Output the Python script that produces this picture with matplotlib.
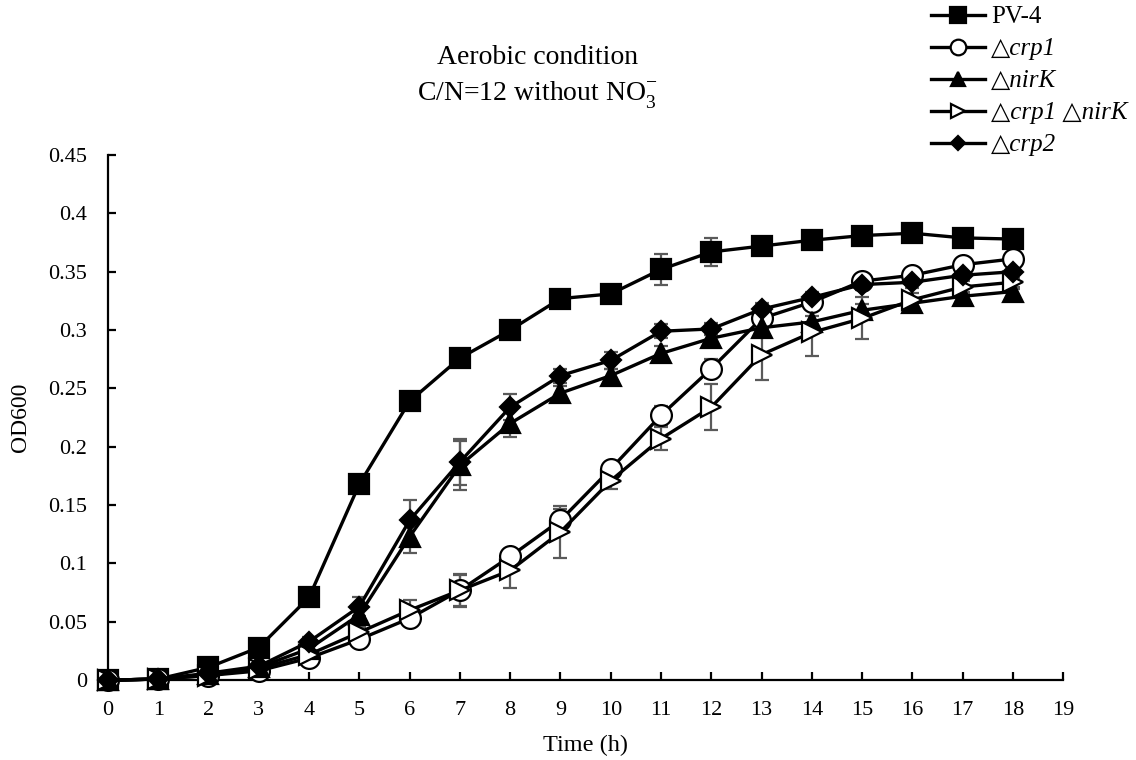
import numpy as np
import matplotlib
matplotlib.use('Agg')
import matplotlib.pyplot as plt
from matplotlib.ticker import FuncFormatter, MultipleLocator

plt.rcParams['font.family'] = ['Liberation Serif', 'DejaVu Serif']
plt.rcParams['mathtext.fontset'] = 'custom'
plt.rcParams['mathtext.rm'] = 'Liberation Serif'

time_h = list(range(19))

pv4 = [0, 0.001, 0.011, 0.028, 0.071, 0.168, 0.239, 0.276, 0.300, 0.327,
       0.331, 0.352, 0.367, 0.372, 0.377, 0.381, 0.383, 0.379, 0.378]
crp1 = [0, 0.001, 0.004, 0.008, 0.019, 0.035, 0.053, 0.077, 0.106, 0.137,
        0.181, 0.227, 0.267, 0.310, 0.324, 0.342, 0.347, 0.356, 0.361]
nirk = [0, 0.001, 0.005, 0.011, 0.027, 0.056, 0.123, 0.184, 0.220, 0.246,
        0.261, 0.280, 0.293, 0.302, 0.307, 0.317, 0.323, 0.329, 0.333]
crp1_nirk = [0, 0.001, 0.004, 0.010, 0.022, 0.041, 0.060, 0.077, 0.094, 0.127,
             0.171, 0.207, 0.234, 0.279, 0.298, 0.310, 0.326, 0.337, 0.341]
crp2 = [0, 0.001, 0.006, 0.012, 0.033, 0.063, 0.137, 0.187, 0.234, 0.261,
        0.274, 0.299, 0.301, 0.318, 0.328, 0.339, 0.341, 0.347, 0.350]

pv4_err = [0, 0, 0.002, 0.003, 0.004, 0.005, 0.005, 0.005, 0.004, 0.005,
           0.008, 0.013, 0.012, 0.004, 0.004, 0.004, 0.004, 0.004, 0.004]
crp1_err = [0, 0, 0.001, 0.002, 0.003, 0.004, 0.005, 0.013, 0.006, 0.010,
            0.006, 0.008, 0.008, 0.006, 0.006, 0.005, 0.005, 0.005, 0.005]
nirk_err = [0, 0, 0.001, 0.002, 0.003, 0.005, 0.014, 0.021, 0.012, 0.006,
            0.006, 0.006, 0.005, 0.005, 0.005, 0.005, 0.004, 0.004, 0.004]
crp1_nirk_err = [0, 0, 0.001, 0.002, 0.003, 0.005, 0.009, 0.014, 0.015, 0.022,
                 0.007, 0.010, 0.020, 0.022, 0.020, 0.018, 0.006, 0.006, 0.006]
crp2_err = [0, 0, 0.001, 0.002, 0.004, 0.008, 0.017, 0.020, 0.011, 0.006,
            0.007, 0.006, 0.005, 0.005, 0.005, 0.005, 0.005, 0.005, 0.005]

labels = ['PV-4', '△crp1', '△nirK', '△crp1 △nirK', '△crp2']
italic = [False, True, True, True, True]

series = [
    (pv4, pv4_err, dict(marker='s', ms=15, mfc='black')),
    (crp1, crp1_err, dict(marker='o', ms=15, mfc='white')),
    (nirk, nirk_err, dict(marker='^', ms=14, mfc='black')),
    (crp1_nirk, crp1_nirk_err, dict(marker='>', ms=14, mfc='white')),
    (crp2, crp2_err, dict(marker='D', ms=10, mfc='black')),
]

fig = plt.figure(figsize=(11.36, 7.6), dpi=100)
ax = fig.add_axes([0.095, 0.105, 0.841, 0.691])

# error bars go under the lines and markers
for y, err, style in series:
    ax.errorbar(time_h, y, yerr=err, fmt='none', ecolor='#5a5a5a',
                elinewidth=1.6, capsize=5, capthick=1.6, zorder=2,
                clip_on=False)

handles = []
for (y, err, style), lab in zip(series, labels):
    h, = ax.plot(time_h, y, color='black', lw=2.4, mec='black', mew=1.6,
                 zorder=3, clip_on=False, label=lab, **style)
    handles.append(h)

ax.set_xlim(0, 19)
ax.set_ylim(0, 0.45)
ax.xaxis.set_major_locator(MultipleLocator(1))
ax.yaxis.set_major_locator(MultipleLocator(0.05))
ax.yaxis.set_major_formatter(FuncFormatter(lambda v, p: '%g' % round(v, 2)))
for s in ['top', 'right']:
    ax.spines[s].set_visible(False)
for s in ['left', 'bottom']:
    ax.spines[s].set_linewidth(1.6)
ax.tick_params(direction='in', length=6, width=1.6, labelsize=16, pad=15)
ax.set_xlabel('Time (h)', fontsize=17.5, labelpad=11)
ax.set_ylabel('OD600', fontsize=17, labelpad=12)

fig.text(0.473, 0.925, 'Aerobic condition', ha='center', va='center',
         fontsize=20)
fig.text(0.473, 0.875, 'C/N=12 without NO$_3^{-}$', ha='center',
         va='center', fontsize=20)

leg = fig.legend(handles=handles, loc='upper left',
                 bbox_to_anchor=(0.800, 1.022), frameon=False,
                 handlelength=2.15, handletextpad=0.25, labelspacing=0.38,
                 prop={'size': 18})
for txt, it in zip(leg.get_texts(), italic):
    if it:
        txt.set_fontstyle('italic')
for lh in leg.legend_handles:
    lh.set_markersize(lh.get_markersize() * 0.75)

fig.savefig('out.png', dpi=100)
